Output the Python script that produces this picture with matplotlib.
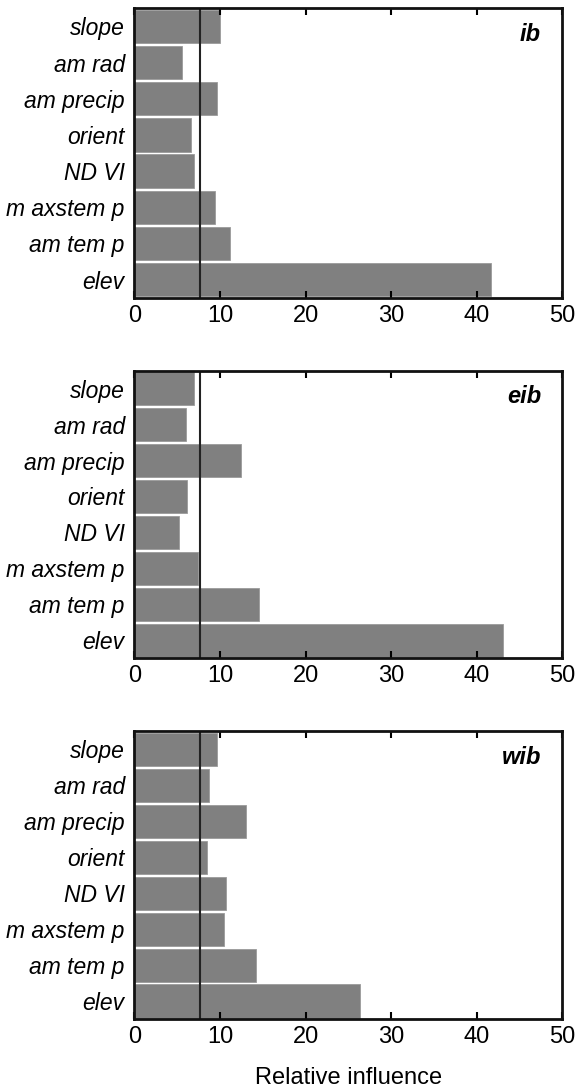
import matplotlib
matplotlib.use("Agg")
from matplotlib import pyplot as plt
import numpy as np

plt.rcParams['font.family'] = ['Liberation Sans', 'DejaVu Sans']

variables = ["slope", "am rad", "am precip", "orient", "ND VI", "m axstem p", "am tem p", "elev"]
ib_vals = [10.0, 5.6, 9.65, 6.65, 6.9, 9.4, 11.2, 41.6]
eib_vals = [6.9, 6.0, 12.5, 6.15, 5.15, 7.4, 14.5, 43.1]
wib_vals = [9.65, 8.65, 13.0, 8.5, 10.65, 10.5, 14.2, 26.4]
panel_names = ["ib", "eib", "wib"]
threshold = 100 / 13
xticks = [0, 10, 20, 30, 40, 50]

fig = plt.figure(figsize=(5.83, 10.92), dpi=100)
# [left, bottom, width, height] for each panel
boxes = [[0.2307, 0.7274, 0.7341, 0.2650],
         [0.2307, 0.3974, 0.7341, 0.2631],
         [0.2307, 0.0668, 0.7341, 0.2637]]

for box, vals, name in zip(boxes, [ib_vals, eib_vals, wib_vals], panel_names):
    ax = fig.add_axes(box)
    pos = np.arange(len(variables))[::-1]
    ax.barh(pos, vals, height=0.92, color="#808080", edgecolor="#9a9a9a", linewidth=0.6)
    ax.axvline(threshold, color="#222222", linewidth=1.5)
    ax.set_xlim(0, 50)
    ax.set_ylim(-0.5, 7.5)
    ax.set_yticks(pos)
    ax.set_yticklabels(variables, style="italic", fontsize=16.5)
    ax.set_xticks(xticks)
    ax.set_xticklabels([str(t) for t in xticks], fontsize=17)
    ax.tick_params(axis="y", length=0, pad=7)
    ax.tick_params(axis="x", direction="in", top=True, length=5, width=1.5, pad=5)
    for sp in ax.spines.values():
        sp.set_linewidth(2)
        sp.set_color("#111111")
    ax.text(0.95, 0.91, name, transform=ax.transAxes, ha="right", va="center",
            fontsize=17, fontweight="bold", style="italic")
    if name == "wib":
        ax.set_xlabel("Relative influence", fontsize=17, labelpad=14)

plt.savefig("out.png", dpi=100)
plt.close()
